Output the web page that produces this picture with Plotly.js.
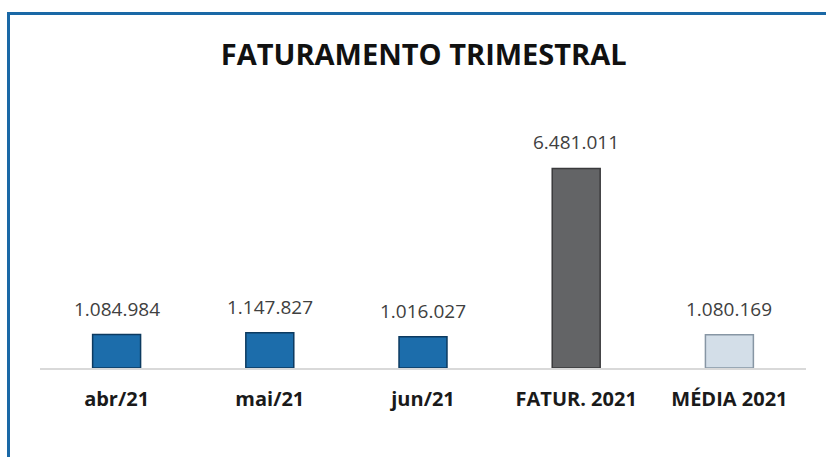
<!DOCTYPE html>
<html>
<head>
<meta charset="utf-8">
<script src="https://cdn.plot.ly/plotly-3.0.1.min.js"></script>
<style>
  html, body { margin: 0; padding: 0; background: #ffffff; }
  #wrap { position: relative; width: 826px; height: 457px; overflow: hidden; }
  #chart { position: absolute; left: 0; top: 0; width: 826px; height: 457px; }
  #frame { position: absolute; left: 7px; top: 12px; width: 830px; height: 460px;
           border-top: 3px solid #1A68A6; border-left: 3px solid #1A68A6; pointer-events: none; }
</style>
</head>
<body>
<div id="wrap">
  <div id="chart"></div>
  <div id="frame"></div>
</div>
<script>
const categories = ["abr/21", "mai/21", "jun/21", "FATUR. 2021", "MÉDIA 2021"];
const values = [1084984, 1147827, 1016027, 6481011, 1080169];
const valueLabels = ["1.084.984", "1.147.827", "1.016.027", "6.481.011", "1.080.169"];
const barColors = ["#1C6DAB", "#1C6DAB", "#1C6DAB", "#636466", "#D3DEE8"];
const barEdges = ["#0C3A60", "#0C3A60", "#0C3A60", "#3A3A3C", "#8796A4"];

const trace = {
  type: "bar",
  x: categories,
  y: values,
  marker: { color: barColors, line: { color: barEdges, width: 1.5 } },
  hoverinfo: "none"
};

const annotations = categories.map((c, i) => ({
  x: c, y: values[i], xref: "x", yref: "y",
  text: valueLabels[i], showarrow: false,
  yanchor: "bottom", yshift: 11,
  font: { family: "Open Sans, sans-serif", size: 19, color: "#404040" }
}));

const layout = {
  width: 826, height: 457,
  paper_bgcolor: "#ffffff", plot_bgcolor: "#ffffff",
  margin: { l: 40, r: 20, t: 137, b: 89 },
  title: {
    text: "<b>FATURAMENTO TRIMESTRAL</b>",
    font: { family: "Open Sans, sans-serif", size: 29, color: "#111111" },
    x: 0.513, xanchor: "center", xref: "container",
    y: 1 - 55 / 457, yanchor: "middle", yref: "container"
  },
  bargap: 0.687,
  showlegend: false,
  xaxis: {
    type: "category",
    showline: true, linecolor: "#D9D9D9", linewidth: 2,
    showgrid: false, zeroline: false,
    ticks: "outside", ticklen: 12, tickcolor: "rgba(0,0,0,0)",
    tickfont: { family: "Open Sans, sans-serif", size: 20, color: "#1a1a1a", weight: "bold" }
  },
  yaxis: {
    range: [0, 7500000],
    visible: false, showgrid: false, zeroline: false, fixedrange: true
  },
  annotations: annotations
};

Plotly.newPlot("chart", [trace], layout, { displayModeBar: false, staticPlot: true });
</script>
</body>
</html>
